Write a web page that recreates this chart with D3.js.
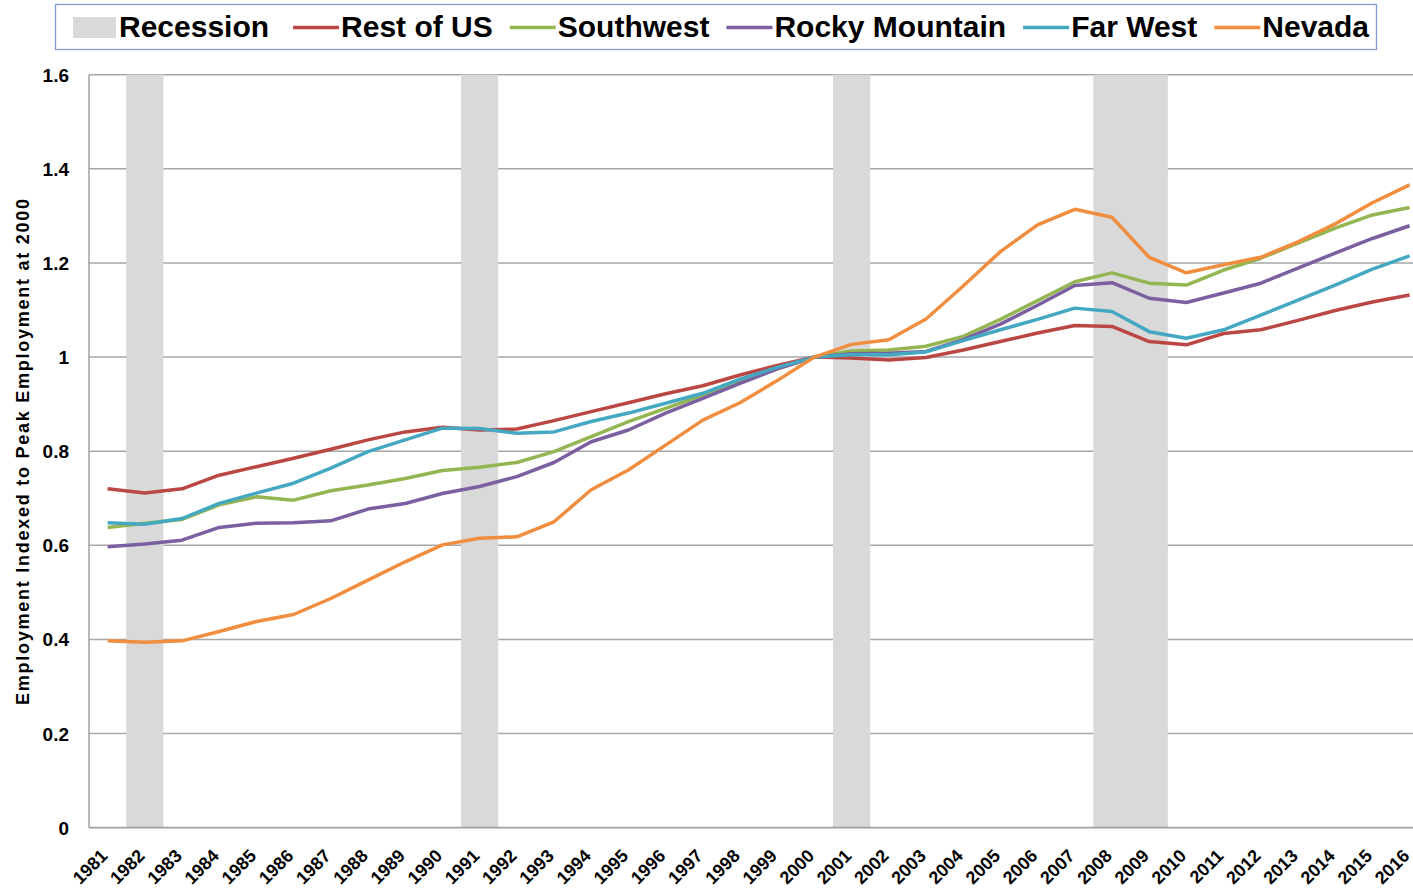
<!DOCTYPE html>
<html>
<head>
<meta charset="utf-8">
<script src="https://cdn.jsdelivr.net/npm/d3@7"></script>
<style>
  body { margin: 0; background: #fff; }
  text { font-family: "Liberation Sans", Arial, sans-serif; font-weight: bold; }
</style>
</head>
<body>
<script>
var years = d3.range(1981, 2017);
var yTicks = [0, 0.2, 0.4, 0.6, 0.8, 1, 1.2, 1.4, 1.6];
var recessions = [[1982, 1982], [1991, 1991], [2001, 2001], [2008, 2009]];

var seriesNames = ["Rest of US", "Southwest", "Rocky Mountain", "Far West", "Nevada"];
var seriesColors = ["#bb4744", "#93b652", "#7b5fa0", "#45a8c2", "#f08d3e"];

var restUS = [0.720,0.711,0.720,0.749,0.767,0.785,0.804,0.824,0.841,0.851,0.845,0.847,0.865,0.884,0.903,0.922,0.939,0.962,0.982,1.000,0.998,0.994,0.999,1.015,1.033,1.051,1.067,1.065,1.033,1.026,1.050,1.058,1.078,1.099,1.117,1.132];
var southwest = [0.638,0.647,0.655,0.686,0.703,0.696,0.716,0.728,0.742,0.759,0.766,0.776,0.799,0.831,0.863,0.891,0.919,0.950,0.975,1.000,1.013,1.015,1.023,1.044,1.080,1.120,1.160,1.179,1.157,1.153,1.185,1.210,1.242,1.274,1.302,1.318];
var rockyMountain = [0.597,0.603,0.611,0.638,0.647,0.648,0.652,0.677,0.689,0.710,0.725,0.746,0.776,0.820,0.845,0.881,0.912,0.944,0.975,1.000,1.007,1.008,1.012,1.037,1.070,1.110,1.152,1.158,1.125,1.116,1.136,1.157,1.189,1.221,1.252,1.279];
var farWest = [0.648,0.645,0.657,0.689,0.711,0.732,0.764,0.799,0.824,0.849,0.848,0.838,0.841,0.863,0.881,0.902,0.923,0.953,0.978,1.000,1.005,1.005,1.011,1.035,1.058,1.080,1.104,1.097,1.054,1.040,1.058,1.089,1.121,1.153,1.187,1.215];
var nevada = [0.397,0.394,0.397,0.417,0.438,0.453,0.487,0.526,0.565,0.601,0.615,0.618,0.650,0.718,0.760,0.813,0.866,0.903,0.950,1.000,1.027,1.037,1.081,1.151,1.224,1.281,1.314,1.297,1.212,1.179,1.196,1.212,1.245,1.283,1.328,1.366];

var seriesValues = [restUS, southwest, rockyMountain, farWest, nevada];

var w = 1413;
var h = 891;
var plotLeft = 89, plotTop = 74.7, plotBottom = 827.7;
var bandW = 37.2;

var svg = d3.select("body")
  .append("svg")
  .attr("width", w)
  .attr("height", h);

var x = d3.scaleBand()
  .domain(years)
  .range([plotLeft, plotLeft + years.length * bandW])
  .padding(0);

var y = d3.scaleLinear()
  .domain([0, 1.6])
  .range([plotBottom, plotTop]);

function xc(yr) { return x(yr) + x.bandwidth() / 2; }

// gridlines
svg.append("g")
  .selectAll("line")
  .data(yTicks.filter(function(d) { return d > 0; }))
  .enter()
  .append("line")
  .attr("x1", plotLeft)
  .attr("x2", w)
  .attr("y1", function(d) { return y(d); })
  .attr("y2", function(d) { return y(d); })
  .style("stroke", "#a6a6a6")
  .style("stroke-width", 1.5);

// recession bands
svg.append("g")
  .selectAll("rect")
  .data(recessions)
  .enter()
  .append("rect")
  .attr("x", function(d) { return x(d[0]); })
  .attr("width", function(d) { return x(d[1]) + x.bandwidth() - x(d[0]); })
  .attr("y", y(1.6))
  .attr("height", y(0) - y(1.6))
  .style("fill", "#d9d9d9");

// axis lines
svg.append("line")
  .attr("x1", plotLeft).attr("x2", plotLeft)
  .attr("y1", y(1.6)).attr("y2", y(0))
  .style("stroke", "#a0a0a0").style("stroke-width", 1.5);
svg.append("line")
  .attr("x1", plotLeft).attr("x2", w)
  .attr("y1", y(0)).attr("y2", y(0))
  .style("stroke", "#a0a0a0").style("stroke-width", 1.8);

// y tick labels
svg.append("g")
  .selectAll("text")
  .data(yTicks)
  .enter()
  .append("text")
  .attr("x", plotLeft - 20)
  .attr("y", function(d) { return y(d) + 7; })
  .style("text-anchor", "end")
  .style("font-size", "19px")
  .style("fill", "#000")
  .text(function(d) { return d3.format("")(d); });

// x tick labels
svg.append("g")
  .selectAll("text")
  .data(years)
  .enter()
  .append("text")
  .attr("transform", function(d) { return "translate(" + (xc(d) + 1) + "," + 857 + ") rotate(-45)"; })
  .style("text-anchor", "end")
  .style("font-size", "18px")
  .style("fill", "#000")
  .text(function(d) { return d; });

// y axis title
svg.append("text")
  .attr("transform", "translate(29," + 452 + ") rotate(-90)")
  .attr("textLength", 506)
  .attr("lengthAdjust", "spacing")
  .style("text-anchor", "middle")
  .style("font-size", "18px")
  .style("fill", "#000")
  .text("Employment Indexed to Peak Employment at 2000");

// lines
var line = d3.line()
  .x(function(d, i) { return xc(years[i]); })
  .y(function(d) { return y(d); });

svg.append("g")
  .selectAll("path")
  .data(seriesValues)
  .enter()
  .append("path")
  .attr("d", line)
  .style("fill", "none")
  .style("stroke", function(d, i) { return seriesColors[i]; })
  .style("stroke-width", 3.5)
  .style("stroke-linejoin", "round");

// legend
var legend = svg.append("g");
legend.append("rect")
  .attr("x", 55.5).attr("y", 4.5)
  .attr("width", 1321).attr("height", 45)
  .style("fill", "#fff")
  .style("stroke", "#7f9fd3")
  .style("stroke-width", 1.3);

var lx = 73;
legend.append("rect")
  .attr("x", lx).attr("y", 17)
  .attr("width", 43).attr("height", 21)
  .style("fill", "#d9d9d9");
var t0 = legend.append("text")
  .attr("x", lx + 46).attr("y", 37)
  .style("font-size", "30px")
  .text("Recession");
lx = lx + 46 + t0.node().getComputedTextLength() + 24;

seriesNames.forEach(function(name, i) {
  legend.append("line")
    .attr("x1", lx).attr("x2", lx + 46)
    .attr("y1", 27.5).attr("y2", 27.5)
    .style("stroke", seriesColors[i])
    .style("stroke-width", 3.5);
  var t = legend.append("text")
    .attr("x", lx + 48).attr("y", 37)
    .style("font-size", "30px")
    .text(name);
  lx = lx + 48 + t.node().getComputedTextLength() + 17;
});
</script>
</body>
</html>
